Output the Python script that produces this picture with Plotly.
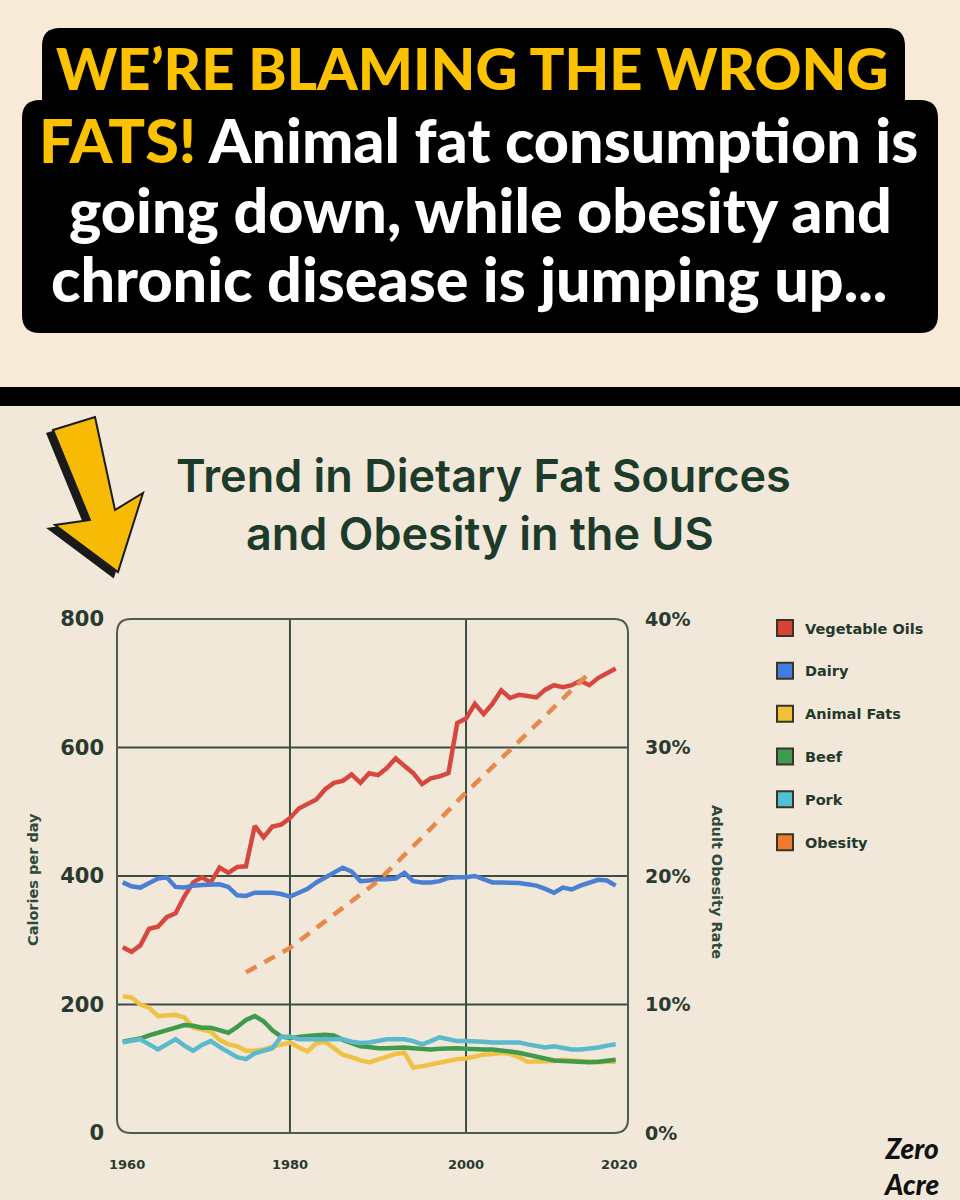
import plotly.graph_objects as go

# ---------------- data ----------------
years = list(range(1961, 2018))
veg_oils = [289, 282, 292, 318, 321, 336, 342, 368, 390, 398,
            390, 413, 405, 414, 415, 478, 460, 477, 480, 490,
            505, 512, 519, 535, 545, 548, 558, 545, 560, 557,
            568, 583, 572, 560, 543, 552, 555, 560, 638, 645,
            668, 652, 668, 689, 677, 682, 680, 678, 690, 697,
            694, 697, 704, 697, 708, 715, 723]
dairy = [390, 384, 382, 390, 396, 398, 383, 382, 385, 386,
         387, 387, 383, 370, 369, 374, 374, 374, 372, 368,
         374, 380, 390, 398, 405, 413, 407, 392, 393, 395,
         395, 396, 405, 392, 390, 390, 392, 397, 398, 398,
         400, 395, 390, 390, 390, 389, 387, 385, 380, 374,
         382, 379, 385, 390, 394, 393, 385]
animal_fats = [213, 211, 200, 195, 182, 183, 184, 180, 164, 161,
               158, 145, 138, 135, 128, 128, 130, 134, 138, 141,
               133, 127, 140, 142, 132, 122, 118, 113, 110, 114,
               118, 123, 125, 102, 104, 107, 110, 113, 115, 116,
               119, 122, 123, 125, 123, 118, 111, 111, 111, 112,
               114, 113, 111, 110, 110, 111, 111]
beef = [142, 144, 147, 152, 156, 160, 164, 168, 167, 164,
        164, 160, 156, 165, 176, 182, 174, 160, 150, 148,
        150, 151, 152, 153, 152, 145, 140, 135, 134, 132,
        132, 133, 133, 132, 131, 130, 131, 132, 132, 131,
        130, 130, 130, 129, 127, 125, 122, 118, 115, 113,
        112, 111, 111, 110, 111, 113, 114]
pork = [141, 143, 146, 138, 130, 138, 146, 136, 128, 137,
        143, 134, 125, 118, 115, 124, 128, 132, 150, 150,
        146, 146, 146, 146, 146, 146, 142, 140, 141, 143,
        146, 146, 146, 143, 138, 143, 149, 146, 143, 143,
        143, 142, 141, 141, 141, 141, 138, 135, 133, 135,
        132, 130, 130, 131, 133, 136, 138]
obesity_years = [1975, 1980, 1985, 1990, 1995, 2000, 2005, 2010, 2014]
obesity_rate = [12.5, 14.4, 17.0, 19.6, 23.0, 26.5, 29.8, 33.2, 35.8]

series_names = ["Vegetable Oils", "Dairy", "Animal Fats", "Beef", "Pork", "Obesity"]
line_colors = ["#d6473f", "#4b7fd4", "#efc145", "#3f9a4e", "#5bb9cb", "#e8894a"]
legend_colors = ["#d94336", "#3f7de0", "#f2c13a", "#3d9a4f", "#4fc1d0", "#ef7b2d"]

x_tick_vals = [1961.5, 1980, 2000, 2017.4]
x_tick_text = ["1960", "1980", "2000", "2020"]
y_tick_vals = [0, 200, 400, 600, 800]
y2_tick_vals = [0, 10, 20, 30, 40]
y2_tick_text = ["0%", "10%", "20%", "30%", "40%"]
grid_years = [1980, 2000]
grid_cal = [200, 400, 600]

# ---------------- layout helpers ----------------
W, H = 960, 1200
L, R, T, B = 117, 628, 619, 1133
BG = "#f1e8d9"


def px(x):
    return (x - L) / (R - L)


def py(y):
    return (B - y) / (B - T)


def rrect_path(x0, y0, x1, y1, r):
    return (f"M{px(x0 + r)},{py(y0)} L{px(x1 - r)},{py(y0)} "
            f"Q{px(x1)},{py(y0)} {px(x1)},{py(y0 + r)} "
            f"L{px(x1)},{py(y1 - r)} Q{px(x1)},{py(y1)} {px(x1 - r)},{py(y1)} "
            f"L{px(x0 + r)},{py(y1)} Q{px(x0)},{py(y1)} {px(x0)},{py(y1 - r)} "
            f"L{px(x0)},{py(y0 + r)} Q{px(x0)},{py(y0)} {px(x0 + r)},{py(y0)} Z")


def poly_path(pts, dx=0, dy=0):
    s = "M" + " L".join(f"{px(x + dx)},{py(y + dy)}" for x, y in pts)
    return s + " Z"


fig = go.Figure()

cal_series = [veg_oils, dairy, animal_fats, beef, pork]
for name, vals, col in zip(series_names[:5], cal_series, line_colors[:5]):
    fig.add_trace(go.Scatter(x=years, y=vals, mode="lines", name=name,
                             line=dict(color=col, width=4.5), showlegend=False,
                             hoverinfo="skip"))
fig.add_trace(go.Scatter(x=obesity_years, y=obesity_rate, mode="lines",
                         name="Obesity", yaxis="y2",
                         line=dict(color=line_colors[5], width=4.5, dash="12px,9px"),
                         showlegend=False, hoverinfo="skip"))

# legend entries (square swatches)
for i, (name, col) in enumerate(zip(series_names, legend_colors)):
    fig.add_trace(go.Scatter(x=[None], y=[None], mode="markers", name=name,
                             legendgroup=f"g{i}",
                             marker=dict(symbol="square", size=16, color=col,
                                         line=dict(color="#3b3326", width=2))))

shapes = []
shapes.append(dict(type="rect", xref="paper", yref="paper", x0=px(0), x1=px(W),
                   y0=py(0), y1=py(387), fillcolor="#f7ebd7", line=dict(width=0),
                   layer="below"))
shapes.append(dict(type="rect", xref="paper", yref="paper", x0=px(0), x1=px(W),
                   y0=py(387), y1=py(406), fillcolor="#000000", line=dict(width=0),
                   layer="below"))
shapes.append(dict(type="path", xref="paper", yref="paper",
                   path=rrect_path(42, 28, 905, 130, 18),
                   fillcolor="#000000", line=dict(width=0), layer="below"))
shapes.append(dict(type="path", xref="paper", yref="paper",
                   path=rrect_path(22, 100, 938, 333, 18),
                   fillcolor="#000000", line=dict(width=0), layer="below"))
arrow = [(53, 430), (95, 417), (115, 510), (143, 493), (118, 572), (55, 525), (90, 520)]
shapes.append(dict(type="path", xref="paper", yref="paper",
                   path=poly_path(arrow, -5, 4), fillcolor="#1a1a1a",
                   line=dict(color="#1a1a1a", width=3)))
shapes.append(dict(type="path", xref="paper", yref="paper",
                   path=poly_path(arrow), fillcolor="#f7bb06",
                   line=dict(color="#1a1a1a", width=2)))
for gy in grid_years:
    shapes.append(dict(type="line", xref="x", yref="paper", x0=gy, x1=gy, y0=0, y1=1,
                       line=dict(color="#3e4d44", width=2), layer="below"))
for gc in grid_cal:
    shapes.append(dict(type="line", xref="paper", yref="y", x0=0, x1=1, y0=gc, y1=gc,
                       line=dict(color="#3e4d44", width=2), layer="below"))
shapes.append(dict(type="path", xref="paper", yref="paper",
                   path=rrect_path(L, T, R, B, 14),
                   line=dict(color="#4f5b52", width=2), layer="below"))

annotations = []
cond_font = dict(family="Lato", size=58, color="#fcc200", weight=900)
annotations.append(dict(xref="paper", yref="paper", x=px(472), y=py(68),
                        text="WE’RE BLAMING THE WRONG",
                        showarrow=False, font=cond_font, xanchor="center", yanchor="middle"))
hdr_font = dict(family="Lato", size=61, color="#ffffff", weight=900)
annotations.append(dict(xref="paper", yref="paper", x=px(478), y=py(139),
                        text='<span style="color:#fcc200">FATS!</span> Animal fat consumption is',
                        showarrow=False, font=hdr_font, xanchor="center", yanchor="middle"))
annotations.append(dict(xref="paper", yref="paper", x=px(480), y=py(209),
                        text='going down, while obesity and',
                        showarrow=False, font=hdr_font, xanchor="center", yanchor="middle"))
annotations.append(dict(xref="paper", yref="paper", x=px(469), y=py(279),
                        text='chronic disease is jumping up...',
                        showarrow=False, font=hdr_font, xanchor="center", yanchor="middle"))
ttl_font = dict(family="Inter", size=45, color="#1d3b2a", weight=600)
annotations.append(dict(xref="paper", yref="paper", x=px(483), y=py(475),
                        text="Trend in Dietary Fat Sources", showarrow=False,
                        font=ttl_font, xanchor="center", yanchor="middle"))
annotations.append(dict(xref="paper", yref="paper", x=px(480), y=py(533),
                        text="and Obesity in the US", showarrow=False,
                        font=ttl_font, xanchor="center", yanchor="middle"))
annotations.append(dict(xref="paper", yref="paper", x=px(33), y=py(880),
                        text="Calories per day", showarrow=False, textangle=-90,
                        font=dict(family="DejaVu Sans", size=14.5, color="#2e4a3a", weight="bold"),
                        xanchor="center", yanchor="middle"))
annotations.append(dict(xref="paper", yref="paper", x=px(717), y=py(882),
                        text="Adult Obesity Rate", showarrow=False, textangle=90,
                        font=dict(family="DejaVu Sans", size=14.5, color="#2e4a3a", weight="bold"),
                        xanchor="center", yanchor="middle"))
annotations.append(dict(xref="paper", yref="paper", x=px(911), y=py(1166),
                        text="Zero<br>Acre", showarrow=False,
                        font=dict(family="Lato", size=28, color="#111111", weight=900, style="italic"),
                        xanchor="center", yanchor="middle"))

tick_font = dict(family="DejaVu Sans", size=21, color="#2a3a30", weight="bold")
fig.update_layout(
    width=W, height=H,
    margin=dict(l=L, r=W - R, t=T, b=H - B, pad=0),
    paper_bgcolor=BG, plot_bgcolor="rgba(0,0,0,0)",
    shapes=shapes, annotations=annotations,
    xaxis=dict(range=[1960.35, 2018.4], tickvals=x_tick_vals, ticktext=x_tick_text,
               showgrid=False, zeroline=False, showline=False, ticks="",
               ticklabelstandoff=22,
               tickfont=dict(family="DejaVu Sans", size=13, color="#2a3a30", weight="bold")),
    yaxis=dict(range=[0, 800], tickvals=y_tick_vals, showgrid=False, zeroline=False,
               showline=False, ticks="", ticklabelstandoff=12, tickfont=tick_font),
    yaxis2=dict(range=[0, 40], tickvals=y2_tick_vals, ticktext=y2_tick_text, overlaying="y",
                side="right", showgrid=False, zeroline=False, showline=False, ticks="",
                ticklabelstandoff=16, tickfont=dict(family="DejaVu Sans", size=19,
                                                     color="#2a3a30", weight="bold")),
    legend=dict(x=px(765), y=py(612), xanchor="left", yanchor="top",
                bgcolor="rgba(0,0,0,0)", tracegroupgap=21, itemwidth=30,
                font=dict(family="DejaVu Sans", size=14.5, color="#24382c", weight="bold")),
    showlegend=True,
)

fig.write_html("out.html", config={"displayModeBar": False},
               post_script="document.body.style.margin='0';")
